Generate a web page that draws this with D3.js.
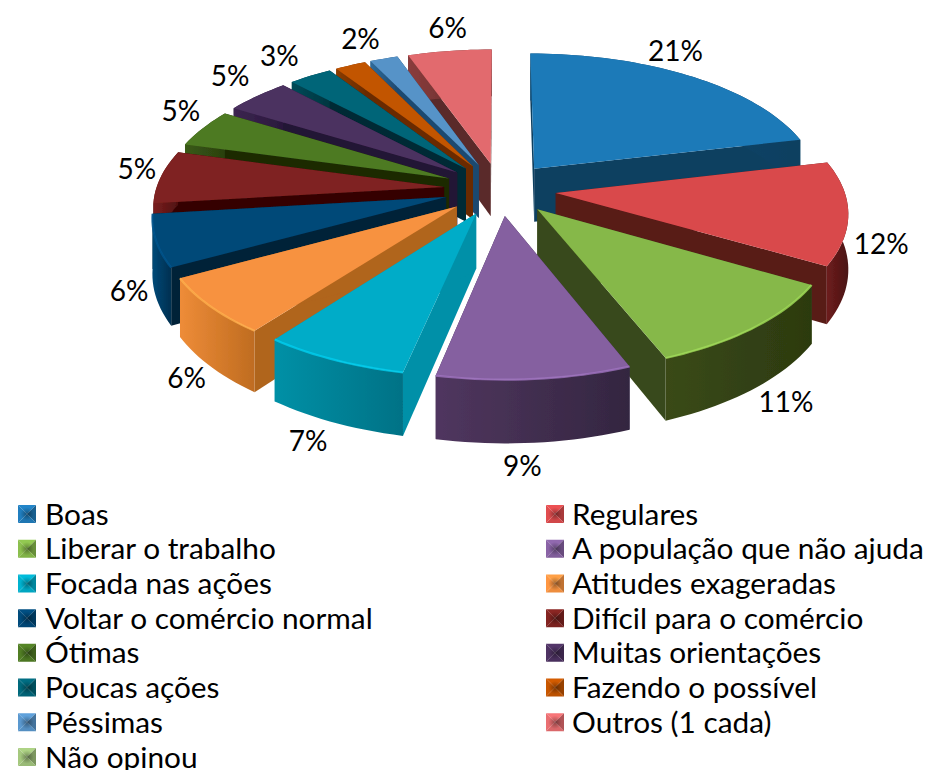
<!DOCTYPE html>
<html><head><meta charset="utf-8">
<script src="https://cdn.jsdelivr.net/npm/d3@7/dist/d3.min.js"></script>
<style>html,body{margin:0;padding:0;background:#fff}svg{display:block}text{font-family:Lato,"Open Sans",sans-serif;fill:#000}</style>
</head><body><svg id="c" width="930" height="770"></svg>
<script>
const categories = ["Boas","Regulares","Liberar o trabalho","A população que não ajuda","Focada nas ações","Atitudes exageradas","Voltar o comércio normal","Difícil para o comércio","Ótimas","Muitas orientações","Poucas ações","Fazendo o possível","Péssimas","Outros (1 cada)","Não opinou"];
const sliceShares = [21.3,12.1,10.6,9.3,7.0,6.7,6.1,6.2,4.5,4.2,2.8,2.0,1.8,5.4,0];
const shownLabels = ["21%","12%","11%","9%","7%","6%","6%","5%","5%","5%","3%","2%",null,"6%",null];
const topColors = ["#1f7ab8","#d94a4c","#86b84a","#8560a0","#00acc8","#f79240","#004878","#7f2320","#4e7a23","#4c3160","#006578","#c25400","#5793c8","#e26b6e","#9fc17a"];
const wallColors = ["#0d3f60","#581a18","#39491a","#3a2a4c","#0090a8","#b0651f","#002238","#350405","#1a2c05","#231434","#002a34","#6a2c00","#1e4a70","#5a2a2a","#4a6030"];
const rimLight = ["#124f78","#6d1c1c","#3a4a16","#50365f","#0090a6","#ee8c38","#014a78","#7a1f1f","#3a5a14","#3c2550","#004a58","#8a3c00","#2e6a9a","#8a3c3c","#5a7a40"];
const rimDark = ["#0d3f60","#4a1414","#2c3a10","#332640","#007286","#bf6c20","#012f50","#501010","#2a4010","#2a183c","#003640","#6a2c00","#1e4a70","#5a2a2a","#4a6030"];
const labelNudge = [[-15,-26],[33,30],[32,73],[-12,86],[-26,80],[-24,71],[-27,49],[-24,-9],[-22,-18],[-27,-21],[-31,-21],[10,-27],[0,0],[-2,-24],[0,0]];

const W = 930, H = 770;
const cx = 500, cy = 189, Rx = 288, Ry = 135, persp = 0.129, explode = 0.195, depth = 54;
const svg = d3.select("#c").attr("viewBox", `0 0 ${W} ${H}`);
const defs = svg.append("defs");
defs.append("filter").attr("id","soft").attr("x","-5%").attr("y","-5%").attr("width","110%").attr("height","110%")
  .append("feGaussianBlur").attr("stdDeviation",0.45);
const centre = defs.append("radialGradient").attr("id","pit");
centre.append("stop").attr("offset","0%").attr("stop-color","#000").attr("stop-opacity",0.35);
centre.append("stop").attr("offset","75%").attr("stop-color","#000").attr("stop-opacity",0);

const sx = d3.scaleLinear().domain([0,1]).range([0,Rx]);
const sy = d3.scaleLinear().domain([0,1]).range([0,Ry]);
function project(X, Y, h) {
  const s = 1 / (1 - persp * Y);
  return [cx + sx(X) * s, cy + sy(Y) * s + (h || 0) * s];
}
const pie = d3.pie().sort(null).value(d => d).startAngle(0).endAngle(2 * Math.PI);
const arcs = pie(sliceShares).map((a, i) => {
  const mid = (a.startAngle + a.endAngle) / 2;
  return {i, a0: a.startAngle, a1: a.endAngle, mid, value: a.value,
    ox: explode * Math.sin(mid), oy: -explode * Math.cos(mid)};
});
const line = d3.line();
function rimPts(d, h) {
  const n = Math.max(4, Math.ceil((d.a1 - d.a0) / 0.03));
  return d3.range(n + 1).map(k => {
    const t = d.a0 + (d.a1 - d.a0) * k / n;
    return project(d.ox + Math.sin(t), d.oy - Math.cos(t), h);
  });
}
const pieG = svg.append("g").attr("filter","url(#soft)");
const order = arcs.filter(d => d.value > 0).sort((p, q) => d3.ascending(-Math.cos(p.mid), -Math.cos(q.mid)));
order.forEach(d => {
  const g = pieG.append("g");
  const apexT = project(d.ox, d.oy, 0), apexB = project(d.ox, d.oy, depth);
  const topR = rimPts(d, 0), botR = rimPts(d, depth);
  const grad = defs.append("linearGradient").attr("id", "rim" + d.i);
  grad.append("stop").attr("offset","0%").attr("stop-color", rimLight[d.i]);
  grad.append("stop").attr("offset","100%").attr("stop-color", rimDark[d.i]);
  const walls = [topR[0], topR[topR.length - 1]].map((p, k) => {
    const b = k ? botR[botR.length - 1] : botR[0];
    return [apexT, p, b, apexB];
  });
  walls.forEach(w => g.append("path").attr("d", line(w) + "Z").attr("fill", wallColors[d.i]));
  g.append("path").attr("d", line(topR.concat(botR.slice().reverse())) + "Z").attr("fill", `url(#rim${d.i})`);
  g.append("path").attr("d", line([apexT].concat(topR)) + "Z").attr("fill", topColors[d.i]);
  const front = Math.max(0, -Math.cos(d.mid));
  if (front > 0.2) g.append("path").attr("d", line(topR)).attr("fill","none")
    .attr("stroke", d3.color(topColors[d.i]).brighter(0.5)).attr("stroke-width",2.2).attr("stroke-opacity",0.8);
});

// value labels
arcs.forEach(d => {
  if (!shownLabels[d.i]) return;
  const D = 1 + explode;
  const p = project(D * Math.sin(d.mid), -D * Math.cos(d.mid), 0);
  svg.append("text").attr("x", p[0] + labelNudge[d.i][0]).attr("y", p[1] + labelNudge[d.i][1])
    .attr("text-anchor","middle").attr("dominant-baseline","central")
    .attr("font-size",28).text(shownLabels[d.i]);
});

// legend
const rowY = d3.scalePoint().domain(d3.range(8)).range([513,756]);
const colX = [18, 546], textX = [45, 572], sw = 18;
categories.forEach((name, i) => {
  const col = i % 2, row = Math.floor(i / 2);
  const x = colX[col], y = rowY(row) - sw / 2 + 1;
  const g = svg.append("g").attr("transform", `translate(${x},${y})`);
  const base = d3.color(topColors[i]);
  const corners = [[0,0],[sw,0],[sw,sw],[0,sw]], mid = [sw/2, sw/2];
  const shades = [base.brighter(0.25), base.darker(0.7), base.darker(0.1), base.brighter(0.1)];
  corners.forEach((p, k) => {
    g.append("path").attr("d", line([p, corners[(k + 1) % 4], mid]) + "Z").attr("fill", shades[k]);
  });
  g.append("rect").attr("width", sw).attr("height", sw).attr("fill","url(#pit)");
  svg.append("text").attr("x", textX[col]).attr("y", rowY(row)).attr("dominant-baseline","central")
    .attr("font-size",29.8).text(name);
});
</script></body></html>
